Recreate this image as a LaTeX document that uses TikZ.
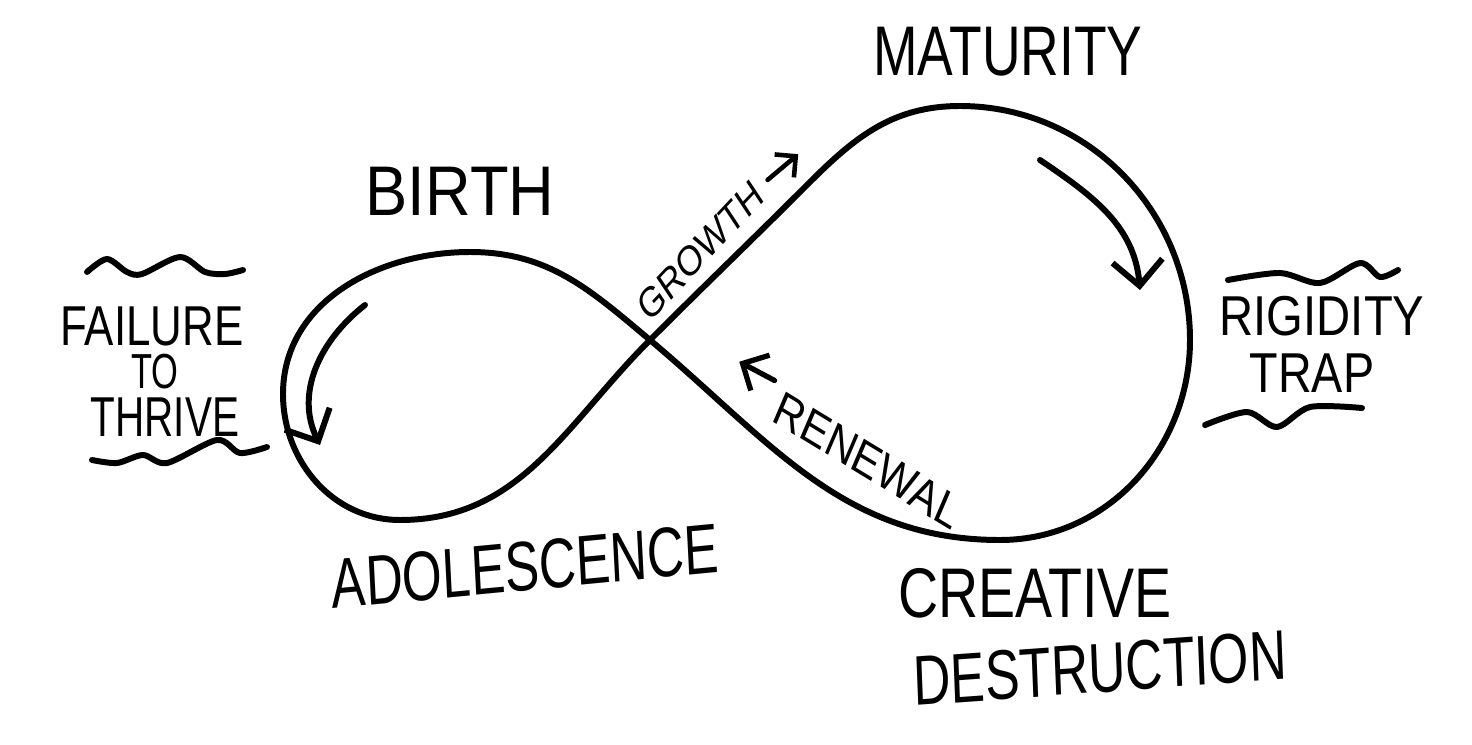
\documentclass[tikz,border=0pt]{standalone}
\usepackage{fontspec}
\setmainfont{Liberation Sans}
\usetikzlibrary{arrows.meta}
\tikzset{
    hand/.style={line width=1.7pt, line cap=round, line join=round},
    bigtext/.style={font=\fontsize{20}{22}\selectfont, inner sep=0pt, text height=14.5pt, text depth=0pt},
    smalltext/.style={font=\fontsize{16}{18}\selectfont, inner sep=0pt, text height=11.6pt, text depth=0pt},
    linetext/.style={font=\fontsize{12}{14}\selectfont, inner sep=0pt, text height=8.7pt, text depth=0pt},
    >={Straight Barb[length=2.5mm,width=5mm]}
}
\begin{document}
\begin{tikzpicture}[hand]
    \useasboundingbox (0,0) rectangle (14.72,7.44);
    \coordinate (cross) at (6.5,4.04);
    \draw (cross) to[out=45,in=225] (8.1,5.62) to[out=45,in=180] (9.6,6.38)
        to[out=0,in=90] (11.9,4.04) to[out=-90,in=0] (10.0,2.04)
        to[out=180,in=-40] (cross) to[out=140,in=0] (4.7,4.92)
        to[out=180,in=90] (2.83,3.5) to[out=-90,in=180] (4.0,2.24)
        to[out=0,in=225] (cross);
    \draw[->] (3.65,4.39) to[out=218,in=116] (3.2,2.99);
    \draw[->] (10.4,5.84) to[out=-34,in=95] (11.4,4.54);
    \node[bigtext, xscale=0.9] (birth) at (4.6,5.54) {BIRTH};
    \node[bigtext, xscale=0.76] (maturity) at (10.08,6.94) {MATURITY};
    \node[bigtext, xscale=0.73, rotate=4] (adolescence) at (5.25,1.79) {ADOLESCENCE};
    \node[bigtext, xscale=0.79] (creative) at (10.35,1.52) {CREATIVE};
    \node[bigtext, xscale=0.735, rotate=3] (destruction) at (11.0,0.77) {DESTRUCTION};
    \node[smalltext, xscale=0.78] (failure) at (1.52,4.19) {FAILURE};
    \node[smalltext, font=\fontsize{14}{16}\selectfont, text height=10pt, xscale=0.7] (failto) at (1.55,3.73) {TO};
    \node[smalltext, xscale=0.72] (thrive) at (1.65,3.28) {THRIVE};
    \node[smalltext, xscale=0.84] (rigidity) at (13.22,4.29) {RIGIDITY};
    \node[smalltext, xscale=0.83] (trap) at (13.12,3.72) {TRAP};
    \node[linetext, xscale=0.79, rotate=40] (growth) at (7.0,4.94) {GROWTH};
    \draw[->, line width=1.3pt, >={Straight Barb[length=1.5mm,width=3mm]}]
        ([shift={(40:0.1)}]growth.east) -- ++(40:0.4);
    \node[linetext, font=\fontsize{14}{16}\selectfont, text height=10pt, xscale=0.84, rotate=-27] (renewal) at (8.68,2.84) {RENEWAL};
    \draw[->, line width=1.5pt, >={Straight Barb[length=2mm,width=4mm]}]
        ([shift={(150:0.1)}]renewal.north west) -- ++(152:0.4);
    \draw plot[smooth] coordinates {(0.87,4.72) (1.07,4.85) (1.27,4.72) (1.42,4.70)
        (1.80,4.87) (2.05,4.72) (2.25,4.70) (2.43,4.74)};
    \draw plot[smooth] coordinates {(0.92,2.84) (1.17,2.81) (1.43,2.89) (1.67,2.81)
        (2.17,3.04) (2.40,2.91) (2.67,2.97)};
    \draw plot[smooth] coordinates {(12.28,4.64) (12.80,4.71) (13.20,4.61) (13.60,4.81)
        (13.80,4.67) (13.98,4.74)};
    \draw plot[smooth] coordinates {(12.05,3.19) (12.47,3.32) (12.77,3.17) (13.10,3.37)
        (13.62,3.36)};
\end{tikzpicture}
\end{document}
